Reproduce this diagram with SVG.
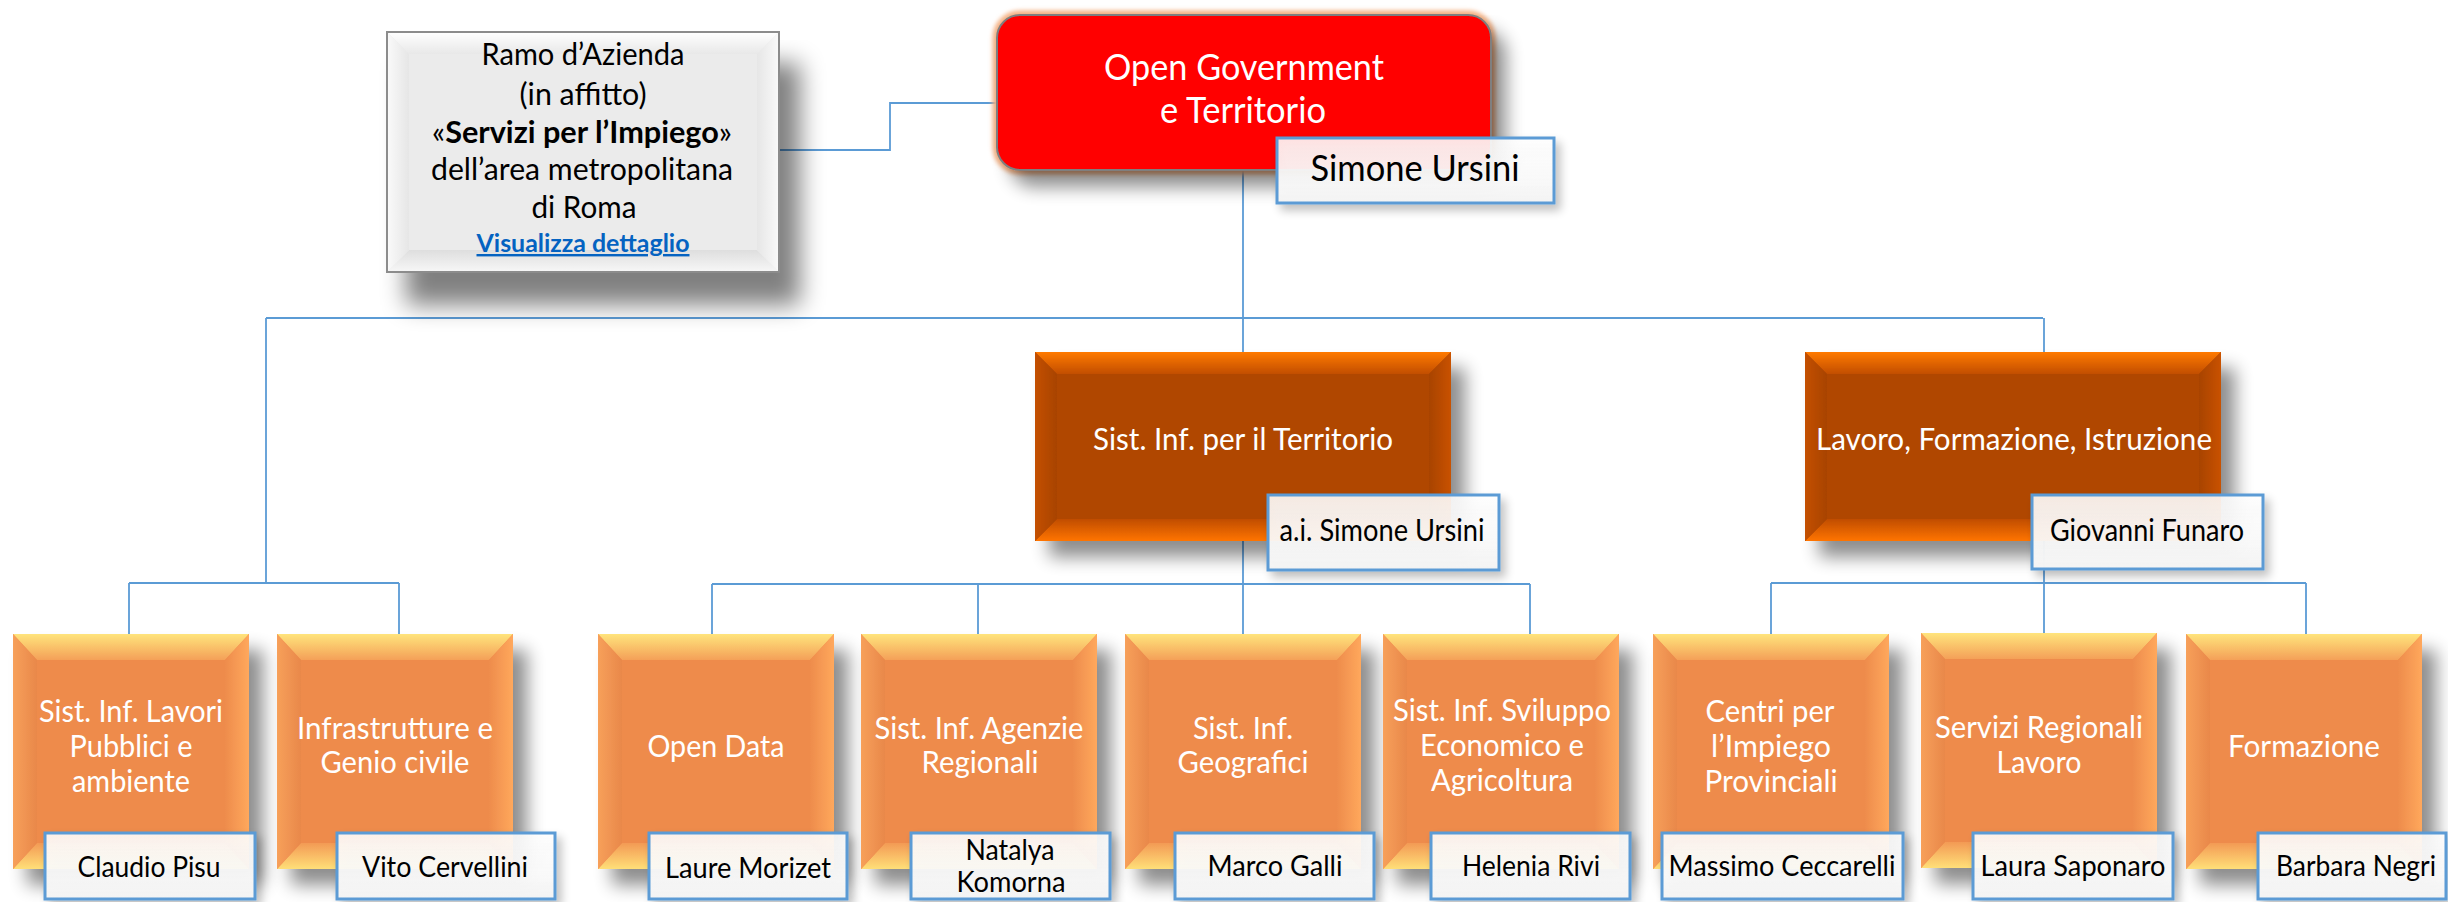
<svg xmlns="http://www.w3.org/2000/svg" xmlns:xlink="http://www.w3.org/1999/xlink" width="2448" height="902" viewBox="0 0 2448 902">
<style>
text{font-family:Lato,"Liberation Sans",sans-serif;text-anchor:middle}
.w{fill:#ffffff}
.k{fill:#000000}
.top{font-size:36px}
.l2{font-size:31px}
.l3{font-size:30px}
.nm{font-size:29px}
.gr{font-size:30px}
.lnk{font-size:24px;font-weight:bold;fill:#0563c1;text-decoration:underline}
.name{fill:url(#gName);stroke:#5b9bd5;stroke-width:3}
#connectors path{fill:none;stroke:#5b9bd5;stroke-width:1.8}
</style>
<defs>
<filter id="sh" x="-10%" y="-10%" width="140%" height="140%">
<feGaussianBlur in="SourceAlpha" stdDeviation="9"/>
<feOffset dx="14" dy="16"/>
<feComponentTransfer><feFuncA type="linear" slope="0.45"/></feComponentTransfer>
<feMerge><feMergeNode/><feMergeNode in="SourceGraphic"/></feMerge>
</filter>
<filter id="shBig" x="-10%" y="-10%" width="140%" height="160%">
<feGaussianBlur in="SourceAlpha" stdDeviation="12"/>
<feOffset dx="20" dy="32"/>
<feComponentTransfer><feFuncA type="linear" slope="0.5"/></feComponentTransfer>
<feMerge><feMergeNode/><feMergeNode in="SourceGraphic"/></feMerge>
</filter>
<filter id="shName" x="-10%" y="-20%" width="130%" height="160%">
<feGaussianBlur in="SourceAlpha" stdDeviation="5"/>
<feOffset dx="5" dy="6"/>
<feComponentTransfer><feFuncA type="linear" slope="0.25"/></feComponentTransfer>
<feMerge><feMergeNode/><feMergeNode in="SourceGraphic"/></feMerge>
</filter>
<filter id="glow" x="-10%" y="-10%" width="120%" height="120%">
<feGaussianBlur stdDeviation="2"/>
</filter>
<linearGradient id="gName" x1="0" y1="0" x2="0" y2="1">
<stop offset="0" stop-color="#ffffff" stop-opacity="0.88"/>
<stop offset="0.6" stop-color="#fbfbfb" stop-opacity="0.93"/>
<stop offset="1" stop-color="#f3f3f3" stop-opacity="1"/>
</linearGradient>
<linearGradient id="g3t" x1="0" y1="0" x2="0" y2="1"><stop offset="0" stop-color="#ffe47c"/><stop offset="1" stop-color="#f4a058"/></linearGradient>
<linearGradient id="g3b" x1="0" y1="0" x2="0" y2="1"><stop offset="0" stop-color="#f39a55"/><stop offset="1" stop-color="#ffdf78"/></linearGradient>
<linearGradient id="g3l" x1="0" y1="0" x2="1" y2="0"><stop offset="0" stop-color="#f7a05a"/><stop offset="1" stop-color="#e9884a"/></linearGradient>
<linearGradient id="g3r" x1="0" y1="0" x2="1" y2="0"><stop offset="0" stop-color="#ee8c4c"/><stop offset="1" stop-color="#ffa85c"/></linearGradient>
<linearGradient id="g2t" x1="0" y1="0" x2="0" y2="1"><stop offset="0" stop-color="#ff7a00"/><stop offset="1" stop-color="#c24e00"/></linearGradient>
<linearGradient id="g2b" x1="0" y1="0" x2="0" y2="1"><stop offset="0" stop-color="#c04d00"/><stop offset="1" stop-color="#ff7400"/></linearGradient>
<linearGradient id="g2l" x1="0" y1="0" x2="1" y2="0"><stop offset="0" stop-color="#c45000"/><stop offset="1" stop-color="#a84300"/></linearGradient>
<linearGradient id="g2r" x1="0" y1="0" x2="1" y2="0"><stop offset="0" stop-color="#a84300"/><stop offset="1" stop-color="#c95200"/></linearGradient>
<linearGradient id="ggt" x1="0" y1="0" x2="0" y2="1"><stop offset="0" stop-color="#ffffff"/><stop offset="1" stop-color="#e8e8e8"/></linearGradient>
<linearGradient id="ggb" x1="0" y1="0" x2="0" y2="1"><stop offset="0" stop-color="#dedede"/><stop offset="1" stop-color="#f7f7f7"/></linearGradient>
<linearGradient id="ggl" x1="0" y1="0" x2="1" y2="0"><stop offset="0" stop-color="#fafafa"/><stop offset="1" stop-color="#e6e6e6"/></linearGradient>
<linearGradient id="ggr" x1="0" y1="0" x2="1" y2="0"><stop offset="0" stop-color="#e6e6e6"/><stop offset="1" stop-color="#fafafa"/></linearGradient>
<g id="b3">
<rect width="236" height="235" fill="#ee8b4b"/>
<polygon points="0,0 236,0 212,26 24,26" fill="url(#g3t)"/>
<polygon points="0,235 24,209 212,209 236,235" fill="url(#g3b)"/>
<polygon points="0,0 24,26 24,209 0,235" fill="url(#g3l)"/>
<polygon points="236,0 212,26 212,209 236,235" fill="url(#g3r)"/>
</g>
<g id="b2">
<rect width="416" height="189" fill="#b04600"/>
<polygon points="0,0 416,0 394,22 22,22" fill="url(#g2t)"/>
<polygon points="0,189 22,167 394,167 416,189" fill="url(#g2b)"/>
<polygon points="0,0 22,22 22,167 0,189" fill="url(#g2l)"/>
<polygon points="416,0 394,22 394,167 416,189" fill="url(#g2r)"/>
</g>
</defs>
<rect width="2448" height="902" fill="#ffffff"/>

<g id="connectors">
<path d="M779,150 H890 V103 H997"/>
<path d="M1243,170 V318"/>
<path d="M266,318 H2043"/>
<path d="M266,318 V583"/>
<path d="M1243,318 V634"/>
<path d="M2044,318 V634"/>
<path d="M129,583 H399 M129,583 V634 M399,583 V634"/>
<path d="M712,584 H1530 M712,584 V634 M978,584 V634 M1530,584 V634"/>
<path d="M1771,583 H2306 M1771,583 V634 M2306,583 V634"/>
</g>

<g id="ramo-azienda">
<g filter="url(#shBig)">
<rect x="387" y="32" width="392" height="240" fill="#ebebeb"/>
<polygon points="387,32 779,32 757,54 409,54" fill="url(#ggt)"/>
<polygon points="387,272 409,250 757,250 779,272" fill="url(#ggb)"/>
<polygon points="387,32 409,54 409,250 387,272" fill="url(#ggl)"/>
<polygon points="779,32 757,54 757,250 779,272" fill="url(#ggr)"/>
<rect x="387" y="32" width="392" height="240" fill="none" stroke="#8c8c8c" stroke-width="2"/>
</g>
<text class="gr k" x="583" y="65" textLength="203" lengthAdjust="spacingAndGlyphs">Ramo d’Azienda</text>
<text class="gr k" x="583" y="105" textLength="127" lengthAdjust="spacingAndGlyphs">(in affitto)</text>
<text class="gr k" x="582" y="143" textLength="300" lengthAdjust="spacingAndGlyphs">«<tspan font-weight="bold">Servizi per l’Impiego</tspan>»</text>
<text class="gr k" x="582" y="180" textLength="302" lengthAdjust="spacingAndGlyphs">dell’area metropolitana</text>
<text class="gr k" x="584" y="218" textLength="105" lengthAdjust="spacingAndGlyphs">di Roma</text>
<text class="lnk" x="583" y="252" textLength="213" lengthAdjust="spacingAndGlyphs">Visualizza dettaglio</text>
</g>

<g id="open-government">
<rect x="997" y="15" width="494" height="155" rx="23" fill="none" stroke="#f4b183" stroke-width="9" filter="url(#glow)"/>
<rect x="997" y="15" width="494" height="155" rx="23" fill="#ff0000" stroke="#7f7f7f" stroke-width="2" filter="url(#sh)"/>
<text class="top w" x="1244" y="80" textLength="280" lengthAdjust="spacingAndGlyphs">Open Government</text>
<text class="top w" x="1243" y="123" textLength="166" lengthAdjust="spacingAndGlyphs">e Territorio</text>
<rect class="name" x="1277" y="138" width="277" height="65" filter="url(#shName)"/>
<text class="top k" x="1415" y="181" textLength="209" lengthAdjust="spacingAndGlyphs">Simone Ursini</text>
</g>

<g id="sist-inf-territorio">
<use href="#b2" x="1035" y="352" filter="url(#sh)"/>
<text class="l2 w" x="1243" y="450" textLength="300" lengthAdjust="spacingAndGlyphs">Sist. Inf. per il Territorio</text>
<rect class="name" x="1268" y="495" width="231" height="75" filter="url(#shName)"/>
<text class="l2 k" x="1382" y="541" textLength="205" lengthAdjust="spacingAndGlyphs">a.i. Simone Ursini</text>
</g>

<g id="lavoro-formazione-istruzione">
<use href="#b2" x="1805" y="352" filter="url(#sh)"/>
<text class="l2 w" x="2014" y="450" textLength="396" lengthAdjust="spacingAndGlyphs">Lavoro, Formazione, Istruzione</text>
<rect class="name" x="2032" y="495" width="231" height="74" filter="url(#shName)"/>
<text class="l2 k" x="2147" y="541" textLength="194" lengthAdjust="spacingAndGlyphs">Giovanni Funaro</text>
</g>

<g id="lavori-pubblici">
<use href="#b3" x="13" y="634" filter="url(#sh)"/>
<text class="l3 w" x="131" y="722" textLength="184" lengthAdjust="spacingAndGlyphs">Sist. Inf. Lavori</text>
<text class="l3 w" x="131" y="757" textLength="123" lengthAdjust="spacingAndGlyphs">Pubblici e</text>
<text class="l3 w" x="131" y="792" textLength="118" lengthAdjust="spacingAndGlyphs">ambiente</text>
<rect class="name" x="45" y="833" width="210" height="66" filter="url(#shName)"/>
<text class="nm k" x="149" y="877" textLength="143" lengthAdjust="spacingAndGlyphs">Claudio Pisu</text>
</g>

<g id="infrastrutture">
<use href="#b3" x="277" y="634" filter="url(#sh)"/>
<text class="l3 w" x="395" y="739" textLength="196" lengthAdjust="spacingAndGlyphs">Infrastrutture e</text>
<text class="l3 w" x="395" y="773" textLength="149" lengthAdjust="spacingAndGlyphs">Genio civile</text>
<rect class="name" x="337" y="833" width="218" height="66" filter="url(#shName)"/>
<text class="nm k" x="445" y="877" textLength="166" lengthAdjust="spacingAndGlyphs">Vito Cervellini</text>
</g>

<g id="open-data">
<use href="#b3" x="598" y="634" filter="url(#sh)"/>
<text class="l3 w" x="716" y="757" textLength="137" lengthAdjust="spacingAndGlyphs">Open Data</text>
<rect class="name" x="649" y="833" width="198" height="66" filter="url(#shName)"/>
<text class="nm k" x="748" y="878" textLength="166" lengthAdjust="spacingAndGlyphs">Laure Morizet</text>
</g>

<g id="agenzie-regionali">
<use href="#b3" x="861" y="634" filter="url(#sh)"/>
<text class="l3 w" x="979" y="739" textLength="209" lengthAdjust="spacingAndGlyphs">Sist. Inf. Agenzie</text>
<text class="l3 w" x="980" y="773" textLength="117" lengthAdjust="spacingAndGlyphs">Regionali</text>
<rect class="name" x="911" y="833" width="199" height="66" filter="url(#shName)"/>
<text class="nm k" x="1010" y="860" textLength="89" lengthAdjust="spacingAndGlyphs">Natalya</text>
<text class="nm k" x="1011" y="892" textLength="109" lengthAdjust="spacingAndGlyphs">Komorna</text>
</g>

<g id="geografici">
<use href="#b3" x="1125" y="634" filter="url(#sh)"/>
<text class="l3 w" x="1243" y="739" textLength="100" lengthAdjust="spacingAndGlyphs">Sist. Inf.</text>
<text class="l3 w" x="1243" y="773" textLength="131" lengthAdjust="spacingAndGlyphs">Geografici</text>
<rect class="name" x="1175" y="833" width="199" height="66" filter="url(#shName)"/>
<text class="nm k" x="1275" y="876" textLength="135" lengthAdjust="spacingAndGlyphs">Marco Galli</text>
</g>

<g id="sviluppo-economico">
<use href="#b3" x="1383" y="634" filter="url(#sh)"/>
<text class="l3 w" x="1502" y="721" textLength="218" lengthAdjust="spacingAndGlyphs">Sist. Inf. Sviluppo</text>
<text class="l3 w" x="1502" y="756" textLength="164" lengthAdjust="spacingAndGlyphs">Economico e</text>
<text class="l3 w" x="1502" y="791" textLength="142" lengthAdjust="spacingAndGlyphs">Agricoltura</text>
<rect class="name" x="1431" y="833" width="199" height="66" filter="url(#shName)"/>
<text class="nm k" x="1531" y="876" textLength="138" lengthAdjust="spacingAndGlyphs">Helenia Rivi</text>
</g>

<g id="centri-impiego">
<use href="#b3" x="1653" y="634" filter="url(#sh)"/>
<text class="l3 w" x="1770" y="722" textLength="129" lengthAdjust="spacingAndGlyphs">Centri per</text>
<text class="l3 w" x="1771" y="757" textLength="120" lengthAdjust="spacingAndGlyphs">l’Impiego</text>
<text class="l3 w" x="1771" y="792" textLength="133" lengthAdjust="spacingAndGlyphs">Provinciali</text>
<rect class="name" x="1662" y="833" width="241" height="66" filter="url(#shName)"/>
<text class="nm k" x="1782" y="876" textLength="227" lengthAdjust="spacingAndGlyphs">Massimo Ceccarelli</text>
</g>

<g id="servizi-regionali">
<use href="#b3" x="1921" y="633" filter="url(#sh)"/>
<text class="l3 w" x="2039" y="738" textLength="208" lengthAdjust="spacingAndGlyphs">Servizi Regionali</text>
<text class="l3 w" x="2039" y="773" textLength="85" lengthAdjust="spacingAndGlyphs">Lavoro</text>
<rect class="name" x="1973" y="833" width="200" height="66" filter="url(#shName)"/>
<text class="nm k" x="2073" y="876" textLength="185" lengthAdjust="spacingAndGlyphs">Laura Saponaro</text>
</g>

<g id="formazione">
<use href="#b3" x="2186" y="634" filter="url(#sh)"/>
<text class="l3 w" x="2304" y="757" textLength="152" lengthAdjust="spacingAndGlyphs">Formazione</text>
<rect class="name" x="2258" y="833" width="188" height="66" filter="url(#shName)"/>
<text class="nm k" x="2356" y="876" textLength="160" lengthAdjust="spacingAndGlyphs">Barbara Negri</text>
</g>
</svg>
